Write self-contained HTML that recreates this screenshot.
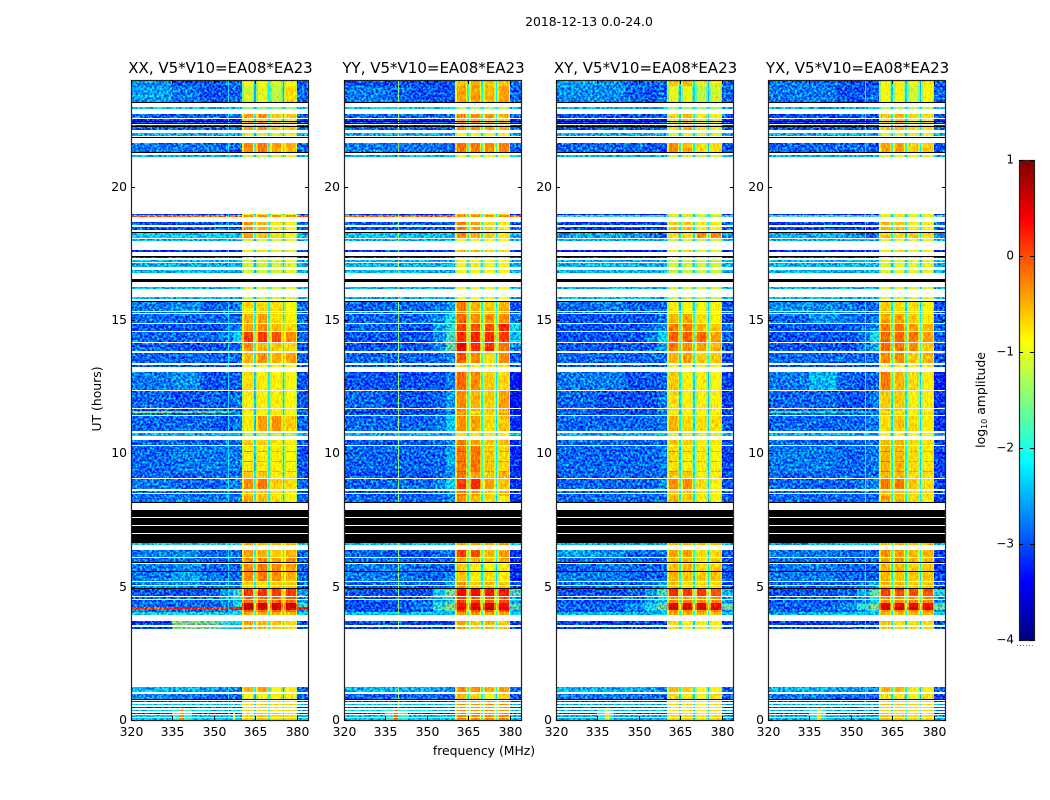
<!DOCTYPE html>
<html lang="en"><head><meta charset="utf-8"><title>2018-12-13 0.0-24.0</title>
<style>
html,body{margin:0;padding:0;background:#fff}
svg{display:block}
text{font-family:"DejaVu Sans","Liberation Sans",sans-serif;fill:#000}
</style></head><body>
<svg id="chart" xmlns="http://www.w3.org/2000/svg" width="1050" height="800" viewBox="0 0 1050 800">
<defs>
<filter id="grain" filterUnits="userSpaceOnUse" x="0" y="0" width="1050" height="800" color-interpolation-filters="sRGB">
<feTurbulence type="fractalNoise" baseFrequency="0.42" numOctaves="2" seed="7" result="n"/>
<feColorMatrix in="n" type="matrix" values="0 0 0 0 0.5  2.3 0 0 0 -0.8  0 0.8 0 0 0.1  0 0 0 0 1" result="c"/>
<feComposite in="SourceGraphic" in2="c" operator="arithmetic" k1="0" k2="1" k3="1" k4="-0.5" result="m"/>
<feComposite in="m" in2="SourceAlpha" operator="in"/>
</filter>
<filter id="stripes" filterUnits="userSpaceOnUse" x="0" y="0" width="1050" height="800" color-interpolation-filters="sRGB">
<feTurbulence type="fractalNoise" baseFrequency="0.7 0.25" numOctaves="1" seed="3" result="n"/>
<feColorMatrix in="n" type="matrix" values="0 0 0 0 0.5  0.8 0 0 0 0.1  0 0 0 0 0.5  0 0 0 0 1" result="c"/>
<feComposite in="SourceGraphic" in2="c" operator="arithmetic" k1="0" k2="1" k3="1" k4="-0.5" result="m"/>
<feComposite in="m" in2="SourceAlpha" operator="in"/>
</filter>
</defs>
<text x="589" y="26" font-size="12.4" text-anchor="middle">2018-12-13 0.0-24.0</text>
<text x="484" y="755" font-size="12.4" text-anchor="middle">frequency (MHz)</text>
<text x="0" y="0" font-size="12.4" text-anchor="middle" transform="translate(101 399) rotate(-90)">UT (hours)</text>
<text x="0" y="0" font-size="12.4" text-anchor="middle" transform="translate(985 400) rotate(-90)">log<tspan font-size="8" dy="2">10</tspan><tspan dy="-2"> amplitude</tspan></text>
</svg>
<script>
// ---- data ----
const panelTitles = ["XX, V5*V10=EA08*EA23","YY, V5*V10=EA08*EA23","XY, V5*V10=EA08*EA23","YX, V5*V10=EA08*EA23"];
const freqTicks = [320,335,350,365,380];
const timeTicks = [0,5,10,15,20];
const colorbarTicks = [1,0,-1,-2,-3,-4];
// background frequency columns (MHz) and spectral windows
const bgEdges = [320,335,345,352,357,360];
const swStart = [360,365.3,370.4,375.5];
const swEnd = [364.6,369.7,374.8,380.2];
const tailEnd = 384;
// data rows: start hour, end hour, spectral class
const bandTop = [24,23.76,22.97,22.74,22.52,22.43,22.33,22.25,22,21.65,21.19,18.99,18.94,18.69,18.5,18.25,18.04,17.63,17.4,17.25,17.13,16.88,16.25,15.85,15.68,15.31,15.23,15.1,14.84,14.55,14.14,13.75,13.31,13.05,12.34,11.65,11.58,11.5,11.41,10.76,10.5,10.28,10.1,10.04,9.71,9.67,9.35,9.3,9.03,8.6,8.49,8.4,6.65,6.38,6.06,5.86,5.56,5.18,5.03,4.92,4.6,4.5,4.38,4.25,4.14,4.06,3.72,3.63,3.5,1.25,0.98,0.724,0.611,0.499,0.386,0.281,0.188,0.075];
const bandBottom = [23.79,23.19,22.91,22.56,22.46,22.39,22.29,22.13,21.9,21.3,21.12,18.96,18.88,18.57,18.38,18.06,17.98,17.56,17.31,17.19,17,16.75,16.16,15.78,15.35,15.25,15.12,14.88,14.59,14.18,13.84,13.4,13.23,12.38,11.69,11.58,11.5,11.45,10.83,10.65,10.31,10.1,10.04,9.71,9.67,9.35,9.3,9.06,8.65,8.52,8.41,8.18,6.56,6.1,5.94,5.6,5.21,5.06,4.95,4.65,4.54,4.38,4.25,4.14,4.06,3.94,3.65,3.56,3.4,1.05,0.8,0.675,0.563,0.45,0.338,0.225,0.113,0];
const bandClass = [0,1,2,3,4,3,4,3,5,6,5,4,7,8,8,9,5,4,4,5,5,5,5,5,10,10,11,11,12,13,14,15,16,17,18,18,19,18,20,21,22,23,40,23,40,23,40,22,24,22,22,25,34,26,27,28,29,30,30,31,32,32,41,33,32,34,35,35,35,36,37,39,38,39,38,39,38,38];
// flagged rows drawn black: start hour, end hour
const blackTop = [23.19,22.46,22.39,22.29,21.86,21.3,18.31,17.4,16.53,15.72,8.18,7.88,7.58,7.41,7.27,6.99,5.94,5.59,4.95,0.79];
const blackBottom = [23.16,22.43,22.34,22.25,21.83,21.26,18.25,17.36,16.44,15.69,8.14,7.6,7.44,7.31,7.02,6.65,5.91,5.56,4.92,0.76];
// class spectra, log10 amplitude x10: b1..b5 (320-360 MHz), four windows, tail
const spectraXX = [
[-25,-28,-28,-27,-27,-9,-9,-10,-9,-27],[-24,-26,-28,-28,-27,-11,-10,-12,-7,-27],[-22,-22,-22,-22,-22,-14,-14,-14,-14,-22],[-27,-27,-27,-27,-27,-4,-3,-6,-6,-27],
[-30,-30,-30,-30,-30,-8,-7,-10,-10,-30],[-23,-23,-23,-23,-23,-11,-11,-11,-10,-23],[-26,-26,-26,-27,-27,-3,-2,-4,-5,-27],[-3,-3,-3,-3,-3,-3,-3,-3,-3,-3],
[-28,-28,-28,-28,-28,-3,-5,-8,-9,-27],[-21,-21,-21,-22,-22,-4,-6,-7,-9,-23],[-26,-25,-27,-27,-26,-7,-7,-7,-9,-27],[-27,-27,-27,-27,-27,-5,-4,-7,-8,-27],
[-28,-28,-28,-27,-26,-4,-3,-5,-7,-27],[-27,-27,-27,-26,-21,1,1,0,-3,-27],[-27,-28,-28,-28,-26,-3,-5,-6,-7,-28],[-27,-27,-27,-27,-27,-5,-3,-5,-4,-27],
[-28,-28,-28,-28,-28,-9,-9,-9,-9,-28],[-26,-25,-28,-28,-27,-7,-8,-8,-9,-28],[-27,-28,-27,-28,-26,-8,-8,-8,-9,-28],[-14,-16,-16,-17,-25,-8,-8,-8,-9,-25],
[-27,-27,-27,-28,-26,-8,-4,-3,-6,-27],[-23,-23,-23,-23,-23,-12,-12,-12,-12,-23],[-27,-27,-27,-27,-27,-6,-6,-8,-8,-28],[-27,-26,-26,-26,-26,-8,-8,-8,-9,-28],
[-26,-27,-27,-26,-25,-3,-2,-6,-7,-27],[-26,-26,-26,-26,-26,-4,-5,-7,-9,-27],[-26,-25,-27,-27,-27,-4,-5,-6,-5,-27],[-27,-27,-27,-27,-27,-3,-3,-4,-3,-27],
[-26,-25,-27,-27,-27,-3,-2,-3,-4,-27],[-26,-24,-26,-27,-27,-3,-2,-3,-5,-27],[-25,-25,-26,-26,-26,-6,-7,-6,-6,-27],[-28,-28,-28,-24,-19,1,1,1,1,-24],
[-27,-27,-27,-25,-21,-1,-1,-1,-1,-25],[0,1,1,1,2,7,6,6,6,1],[-20,-20,-20,-20,-20,-4,-5,-5,-5,-20],[-29,-15,-16,-19,-22,-4,-5,-6,-7,-28],
[-23,-23,-24,-25,-26,-5,-4,-9,-8,-27],[-25,-26,-27,-27,-27,-9,-9,-8,-8,-27],[-22,-22,-22,-22,-22,-7,-6,-7,-7,-23],[-30,-30,-30,-30,-30,-7,-6,-7,-7,-30],
[-27,-27,-27,-27,-26,-2,-3,-5,-4,-28],[-27,-27,-27,-26,-19,7,6,6,6,-18]];
const spectraYY = [
[-28,-28,-28,-28,-28,-6,-5,-6,-6,-27],[-26,-27,-28,-28,-28,-4,-4,-5,-4,-27],[-22,-22,-22,-22,-22,-12,-12,-12,-12,-22],[-27,-27,-27,-27,-27,-3,-3,-4,-5,-27],
[-30,-30,-30,-30,-30,-5,-5,-7,-7,-30],[-23,-23,-23,-23,-23,-9,-9,-9,-9,-23],[-26,-26,-26,-27,-27,-2,-2,-3,-3,-27],[-3,-3,-3,-3,-3,-3,-3,-3,-3,-3],
[-28,-28,-28,-28,-28,-2,-4,-7,-8,-27],[-22,-22,-22,-22,-22,-3,-5,-6,-8,-23],[-27,-27,-27,-26,-24,-2,-5,-6,-5,-28],[-27,-27,-27,-25,-20,-1,-3,-3,-3,-26],
[-27,-28,-28,-24,-19,1,0,0,2,-20],[-28,-28,-28,-25,-18,2,2,2,1,-22],[-28,-28,-28,-25,-17,5,2,2,-2,-25],[-27,-27,-27,-27,-25,0,-3,-7,-3,-28],
[-28,-28,-28,-28,-28,-7,-8,-8,-8,-28],[-28,-28,-28,-28,-26,-1,-3,-6,-7,-32],[-27,-28,-28,-27,-24,-3,-5,-6,-4,-32],[-30,-30,-30,-29,-26,-4,-8,-6,-6,-32],
[-27,-27,-27,-26,-22,-3,-4,-7,-6,-30],[-23,-23,-23,-23,-23,-8,-8,-8,-8,-23],[-28,-28,-28,-27,-25,-2,-4,-6,-5,-30],[-27,-27,-27,-27,-24,-2,-2,-6,-7,-30],
[-27,-27,-27,-25,-21,1,2,-4,-6,-30],[-27,-27,-27,-27,-25,-3,-5,-7,-8,-30],[-27,-28,-28,-27,-27,1,0,-5,-4,-30],[-27,-27,-27,-27,-27,-4,-5,-6,-4,-30],
[-26,-26,-27,-27,-27,-6,-8,-8,-8,-30],[-26,-26,-27,-27,-25,-6,-8,-7,-8,-30],[-27,-27,-27,-27,-24,-3,-6,-5,-6,-28],[-28,-28,-28,-21,-16,4,4,3,3,-18],
[-28,-28,-27,-23,-19,1,0,0,0,-24],[-28,-28,-26,-18,-14,5,6,7,5,-17],[-22,-22,-22,-22,-22,-4,-4,-4,-4,-22],[-29,-29,-29,-29,-29,-4,-6,-5,-6,-29],
[-23,-23,-23,-24,-25,-3,-3,-5,-4,-27],[-27,-27,-27,-27,-27,-5,-7,-9,-6,-28],[-22,-22,-22,-22,-22,-3,-3,-3,-3,-23],[-30,-30,-30,-30,-30,-3,-3,-3,-3,-30],
[-27,-27,-27,-27,-24,1,-1,-3,-3,-30],[-28,-28,-26,-19,-15,4,5,6,4,-18]];
const spectraXY = [
[-24,-25,-27,-27,-27,-6,-5,-8,-8,-27],[-25,-25,-27,-28,-27,-10,-10,-12,-11,-27],[-23,-23,-23,-23,-23,-13,-13,-13,-13,-23],[-28,-28,-28,-28,-28,-7,-5,-8,-8,-27],
[-31,-31,-31,-31,-31,-8,-7,-10,-10,-31],[-23,-23,-23,-23,-23,-11,-11,-11,-11,-23],[-27,-27,-27,-28,-28,-3,-5,-7,-7,-28],[-18,-18,-18,-18,-18,-12,-12,-12,-12,-18],
[-29,-29,-29,-29,-29,-6,-6,-8,-8,-27],[-24,-23,-24,-26,-27,-7,-7,-3,-3,-25],[-27,-26,-27,-27,-27,-8,-9,-9,-9,-28],[-28,-28,-28,-28,-26,-5,-4,-7,-8,-28],
[-28,-28,-28,-27,-25,-2,-2,-5,-6,-27],[-28,-28,-28,-26,-21,-1,-1,-1,-4,-27],[-28,-28,-28,-27,-24,-2,-3,-4,-5,-28],[-27,-27,-27,-27,-27,-5,-4,-6,-6,-28],
[-28,-28,-28,-28,-28,-9,-9,-9,-9,-28],[-26,-26,-28,-28,-27,-6,-8,-8,-9,-29],[-27,-28,-28,-28,-26,-7,-8,-8,-8,-29],[-28,-29,-29,-28,-26,-8,-9,-9,-9,-29],
[-27,-27,-27,-27,-26,-5,-7,-7,-7,-28],[-23,-23,-23,-23,-23,-11,-11,-11,-11,-23],[-27,-27,-27,-27,-27,-6,-6,-8,-8,-28],[-27,-27,-27,-27,-26,-7,-8,-8,-9,-29],
[-27,-27,-27,-27,-25,-3,-3,-7,-8,-28],[-27,-27,-27,-27,-27,-5,-6,-8,-9,-28],[-24,-25,-27,-27,-27,-4,-4,-7,-7,-28],[-27,-27,-27,-27,-27,-5,-5,-7,-6,-28],
[-27,-26,-27,-27,-27,-5,-5,-7,-6,-28],[-26,-26,-27,-27,-27,-5,-6,-6,-6,-28],[-27,-27,-27,-26,-24,-5,-7,-7,-7,-28],[-28,-28,-27,-24,-18,2,1,1,0,-22],
[-28,-28,-27,-25,-22,-3,-3,-3,-3,-25],[-27,-27,-25,-20,-15,6,6,6,5,-16],[-23,-23,-23,-23,-23,-5,-5,-5,-5,-22],[-29,-29,-29,-29,-29,-7,-8,-8,-8,-29],
[-23,-23,-23,-24,-26,-5,-6,-9,-8,-27],[-26,-26,-27,-27,-27,-7,-8,-9,-7,-28],[-23,-23,-23,-23,-23,-7,-7,-8,-7,-24],[-30,-30,-30,-30,-30,-7,-7,-8,-7,-30],
[-27,-27,-27,-27,-26,-2,-3,-5,-5,-29],[-27,-27,-25,-20,-16,5,5,5,4,-17]];
const spectraYX = [
[-26,-27,-28,-28,-28,-9,-8,-9,-8,-27],[-26,-26,-28,-28,-27,-9,-9,-11,-9,-27],[-23,-23,-23,-23,-23,-12,-12,-12,-12,-23],[-28,-28,-28,-28,-28,-6,-5,-7,-7,-27],
[-30,-30,-30,-30,-30,-8,-7,-9,-9,-30],[-23,-23,-23,-23,-23,-10,-10,-10,-10,-23],[-27,-27,-27,-27,-28,-4,-4,-6,-6,-28],[-17,-17,-17,-17,-17,-11,-11,-11,-11,-17],
[-29,-29,-29,-29,-29,-5,-6,-8,-8,-27],[-23,-23,-24,-26,-27,-6,-7,-6,-7,-25],[-25,-25,-26,-27,-27,-6,-7,-7,-9,-28],[-27,-25,-26,-27,-26,-4,-4,-6,-8,-28],
[-28,-28,-28,-27,-25,-2,-2,-4,-5,-27],[-28,-28,-28,-26,-20,-1,-1,-2,-4,-27],[-28,-28,-28,-26,-23,-1,-2,-3,-6,-28],[-27,-27,-27,-27,-27,-3,-3,-6,-5,-28],
[-28,-28,-28,-28,-28,-9,-9,-8,-8,-28],[-26,-23,-27,-28,-27,-2,-5,-7,-8,-31],[-27,-27,-28,-28,-26,-6,-6,-8,-8,-30],[-18,-20,-22,-22,-25,-8,-8,-8,-9,-27],
[-27,-27,-27,-27,-26,-7,-6,-7,-8,-30],[-23,-23,-23,-23,-23,-9,-9,-9,-9,-23],[-27,-27,-27,-27,-27,-5,-5,-7,-7,-29],[-26,-26,-27,-27,-26,-5,-5,-7,-8,-29],
[-27,-27,-27,-26,-25,-2,-2,-6,-7,-29],[-27,-27,-27,-27,-26,-4,-5,-7,-8,-29],[-26,-26,-27,-27,-27,-3,-4,-5,-5,-29],[-27,-27,-27,-27,-27,-4,-3,-5,-5,-29],
[-26,-26,-27,-27,-27,-5,-5,-6,-6,-29],[-26,-26,-27,-27,-27,-5,-6,-6,-6,-29],[-27,-27,-27,-26,-24,-5,-5,-6,-6,-28],[-28,-28,-27,-23,-17,1,0,0,0,-20],
[-28,-28,-27,-25,-21,-3,-3,-3,-3,-25],[-27,-27,-25,-19,-14,6,6,6,5,-16],[-24,-22,-22,-22,-22,-5,-5,-5,-5,-22],[-29,-29,-29,-29,-29,-6,-7,-7,-7,-29],
[-23,-23,-24,-25,-26,-5,-5,-8,-8,-27],[-26,-26,-27,-27,-27,-7,-8,-9,-7,-28],[-23,-23,-23,-23,-23,-6,-6,-7,-7,-24],[-30,-30,-30,-30,-30,-6,-6,-7,-7,-30],
[-27,-27,-27,-27,-26,-1,-2,-4,-4,-29],[-27,-27,-25,-19,-15,5,5,5,4,-17]];
const panelSpectra = [spectraXX,spectraYY,spectraXY,spectraYX];
// inter-window gap amplitude per panel (log10)
const gapLevels = [[-2.5,-2.1,-2.5],[-2.2,-2.2,-2.3],[-2.4,-2.3,-2.4],[-2.3,-2.3,-2.4]];
// narrow interference channels per panel: panel, MHz start, MHz end, from hour, to hour, log10 amplitude
const rfiPanel = [0,1,3,0,1,2,3,0,1,2,3,0];
const rfiFreqStart = [355,339.7,355,335,335,335,335,337.4,338,337.6,337.6,357];
const rfiFreqEnd = [355.3,340,355.3,342,343,341,341,339,339.6,339,339,357.6];
const rfiFromHour = [0,0,0,0,0,0,0,0,0,0,0,0];
const rfiToHour = [24,24,24,0.42,0.42,0.42,0.42,0.42,0.42,0.42,0.42,0.34];
const rfiAmp = [-2.2,-1.4,-2.2,-1.9,-1.9,-2,-2,-0.3,-0.1,-0.8,-0.8,-0.9];

// ---- layout ----
const svg = document.getElementById('chart');
const NS = 'http://www.w3.org/2000/svg';
const plotLeft = [131,344,556,768], plotWidth = 177, plotTop = 80, plotBottom = 720;
const xScale = (p,f) => plotLeft[p] + (f-320)*(plotWidth/(tailEnd-320));
const yScale = t => plotBottom - t*(plotBottom-plotTop)/24;
const cbTop = 160, cbBottom = 640, cbLeft = 1019, cbRight = 1034;
const cbScale = v => cbBottom - (v+4)*(cbBottom-cbTop)/5;
function clip01(v){return Math.max(0,Math.min(1,v));}
function jet(logAmp){
  const v = clip01((logAmp+4)/5);
  const c = k => Math.round(255*clip01(1.5-Math.abs(4*v-k)));
  return 'rgb('+c(3)+','+c(2)+','+c(1)+')';
}
function mk(tag,attrs,parent){
  const el = document.createElementNS(NS,tag);
  for(const k in attrs) el.setAttribute(k,attrs[k]);
  parent.appendChild(el);
  return el;
}
function cell(p,parent,f0,f1,t0,t1,amp){
  const x0 = Math.round(xScale(p,f0)), x1 = Math.round(xScale(p,f1)), y0 = Math.round(yScale(t0));
  const y1 = Math.max(Math.round(yScale(t1)),y0+1);
  const r = mk('rect',{x:x0,y:y0,width:Math.max(x1-x0,1),height:y1-y0,fill:jet(amp),'shape-rendering':'crispEdges'},parent);
  
  
  return r;
}

panelTitles.forEach((title,p)=>{
  const g = mk('g',{},svg);
  
  
  const bg = mk('g',{filter:'url(#grain)'},g);
  
  
  const sw = mk('g',{filter:'url(#stripes)'},g);
  
  
  bandTop.forEach((top,b)=>{
    const bot = bandBottom[b];
    const s = panelSpectra[p][bandClass[b]];
    for(let i=0;i<5;i++) cell(p,bg,bgEdges[i],bgEdges[i+1],top,bot,s[i]/10);
    cell(p,bg,swEnd[3],tailEnd,top,bot,s[9]/10);
    for(let w=0;w<4;w++){
      const core = s[5+w]/10;
      const drop = core>-0.1?0.8:0.5;
      cell(p,sw,swStart[w],swStart[w]+0.7,top,bot,core-drop);
      cell(p,sw,swStart[w]+0.7,swEnd[w]-0.5,top,bot,core);
      cell(p,sw,swEnd[w]-0.5,swEnd[w],top,bot,core-drop);
      if(w<3) cell(p,sw,swEnd[w],swStart[w+1],top,bot,Math.max(gapLevels[p][w],core-1.6));
    }
    rfiPanel.forEach((rp,k)=>{
      if(rp!==p) return;
      const t1 = Math.min(top,rfiToHour[k]), t0 = Math.max(bot,rfiFromHour[k]);
      if(t1>t0) cell(p,sw,rfiFreqStart[k],rfiFreqEnd[k],t1,t0,rfiAmp[k]);
    });
  });
  blackTop.forEach((top,k)=>{
    const y0 = Math.round(yScale(top)), y1 = Math.max(Math.round(yScale(blackBottom[k])),y0+1);
    const r = mk('rect',{x:plotLeft[p],y:y0,width:plotWidth,height:y1-y0,fill:'#000','shape-rendering':'crispEdges'},g);
    
    
  });
  const frame = mk('rect',{x:plotLeft[p]+0.5,y:plotTop+0.5,width:plotWidth,height:plotBottom-plotTop,fill:'none',stroke:'#222','stroke-width':1.2},g);
  
  
  const ttl = mk('text',{x:plotLeft[p]+plotWidth/2+1,y:73,'font-size':15,'text-anchor':'middle'},g);
  ttl.textContent = title;
  
  
  freqTicks.forEach(f=>{
    const x = Math.round(xScale(p,f))+0.5;
    [[plotBottom,plotBottom-4],[plotTop,plotTop+4]].forEach(e=>{
      const t = mk('line',{x1:x,x2:x,y1:e[0],y2:e[1],stroke:'#000','stroke-width':1},g);
      
      
    });
    const l = mk('text',{x:x,y:736,'font-size':12.4,'text-anchor':'middle'},g);
    l.textContent = f;
    
    
  });
  timeTicks.forEach(h=>{
    const y = Math.round(yScale(h))+0.5;
    const x0 = plotLeft[p], x1 = plotLeft[p]+plotWidth+1;
    [[x0,x0+4],[x1,x1-4]].forEach(e=>{
      const t = mk('line',{x1:e[0],x2:e[1],y1:y,y2:y,stroke:'#000','stroke-width':1},g);
      
      
    });
    const l = mk('text',{x:x0-4,y:y+3.5,'font-size':12.4,'text-anchor':'end'},g);
    l.textContent = h;
    
    
  });
});

// colorbar
const cb = mk('g',{},svg);


for(let i=0;i<256;i++){
  const v0 = -4+5*i/256, v1 = -4+5*(i+1)/256;
  const r = mk('rect',{x:cbLeft,y:cbScale(v1).toFixed(2),width:cbRight-cbLeft,height:(cbScale(v0)-cbScale(v1)+0.4).toFixed(2),fill:jet((v0+v1)/2),'shape-rendering':'crispEdges'},cb);
  
  
}
const cbFrame = mk('rect',{x:cbLeft+0.5,y:cbTop+0.5,width:cbRight-cbLeft,height:cbBottom-cbTop,fill:'none',stroke:'#222','stroke-width':1.2},cb);


colorbarTicks.forEach(v=>{
  const y = Math.round(cbScale(v))+0.5;
  [[cbLeft,cbLeft+4],[cbRight,cbRight-4]].forEach(e=>{
    const t = mk('line',{x1:e[0],x2:e[1],y1:y,y2:y,stroke:'#000','stroke-width':1},cb);
    
    
  });
  const l = mk('text',{x:1014,y:y+3,'font-size':12,'text-anchor':'end'},cb);
  l.textContent = v<0 ? '\u2212'+Math.abs(v) : String(v);
  
  
});
const dots = mk('line',{x1:1017,x2:1035,y1:645.5,y2:645.5,stroke:'#777','stroke-width':1,'stroke-dasharray':'1 2'},cb);


</script>
</body></html>
